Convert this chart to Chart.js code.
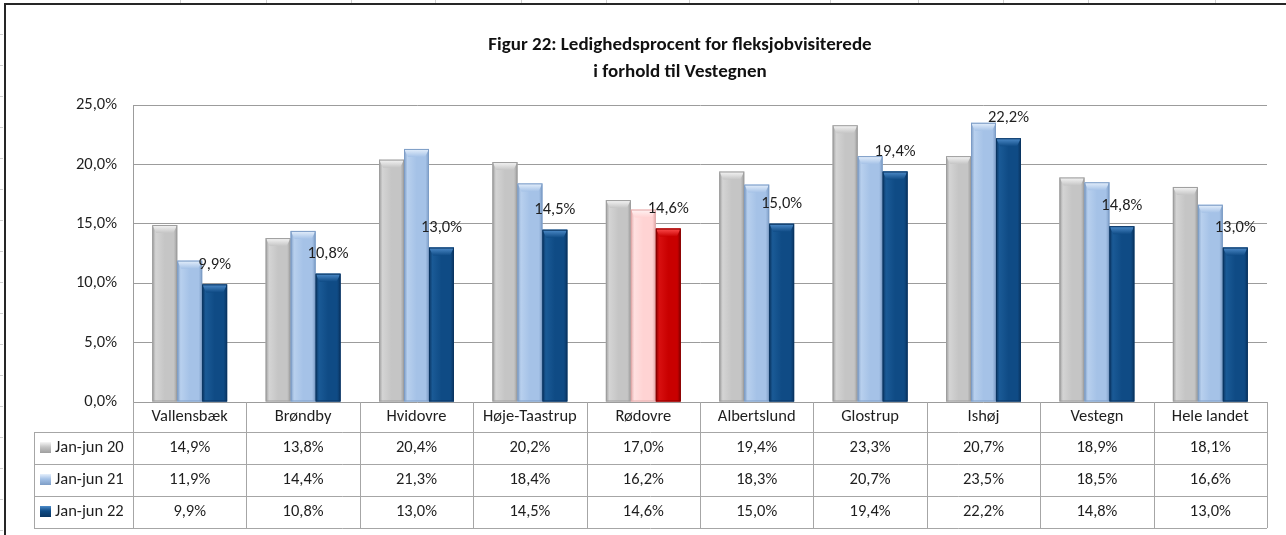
<!DOCTYPE html>
<html>
<head>
<meta charset="utf-8">
<script src="https://cdn.jsdelivr.net/npm/chart.js@4/dist/chart.umd.min.js"></script>
<style>
  html, body { margin: 0; padding: 0; background: #fff; }
  #wrap { width: 1286px; height: 535px; position: relative; }
</style>
</head>
<body>
<div id="wrap"><canvas id="c" width="1286" height="535"></canvas></div>
<script>
// ---- data ----
const categories = ['Vallensbæk', 'Brøndby', 'Hvidovre', 'Høje-Taastrup', 'Rødovre', 'Albertslund', 'Glostrup', 'Ishøj', 'Vestegn', 'Hele landet'];
const seriesNames = ['Jan-jun 20', 'Jan-jun 21', 'Jan-jun 22'];
const janJun20 = [14.9, 13.8, 20.4, 20.2, 17.0, 19.4, 23.3, 20.7, 18.9, 18.1];
const janJun21 = [11.9, 14.4, 21.3, 18.4, 16.2, 18.3, 20.7, 23.5, 18.5, 16.6];
const janJun22 = [9.9, 10.8, 13.0, 14.5, 14.6, 15.0, 19.4, 22.2, 14.8, 13.0];
const yTicks = [0, 5, 10, 15, 20, 25];
const titleLines = ['Figur 22: Ledighedsprocent for fleksjobvisiterede', 'i forhold til Vestegnen'];
const highlightCategory = 'Rødovre';
const labelledSeries = 2; // only the latest period carries value labels

// ---- styling ----
const FONT = "Carlito, Calibri, Lato, 'Open Sans', sans-serif";
const TEXT = '#1e1e1e';
const GRID = '#9c9c9c';
const TABLE_LINE = '#a6a6a6';
const FS = 16.5;

// bar palettes: base, light cap, dark edge
const palettes = [
  { base: '#c5c5c5', cap: '#f6f6f6', edge: '#9e9e9e', side: '#d4d4d4' },
  { base: '#a5c2e7', cap: '#e6f0fc', edge: '#7d9dc6', side: '#b8d0ee' },
  { base: '#0f4b85', cap: '#4f8dcb', edge: '#0a3562', side: '#1a5a96' }
];
const highlightPalettes = [
  { base: '#c5c5c5', cap: '#f6f6f6', edge: '#9e9e9e', side: '#d4d4d4' },
  { base: '#ffd3d3', cap: '#fff4f4', edge: '#e2aaaa', side: '#ffe0e0' },
  { base: '#c90000', cap: '#ff5050', edge: '#880000', side: '#d81010' }
];
const seriesValues = [janJun20, janJun21, janJun22];

function paletteFor(ds, idx) {
  return categories[idx] === highlightCategory ? highlightPalettes[ds] : palettes[ds];
}
function fmtPct(v) {
  return v.toFixed(1).replace('.', ',') + '%';
}

// ---- plugins ----
// Sheet background: gridline stubs of the surrounding worksheet and the chart frame
const sheetFrame = {
  id: 'sheetFrame',
  beforeDraw(chart) {
    const c = chart.ctx;
    c.save();
    c.fillStyle = '#fff';
    c.fillRect(0, 0, chart.width, chart.height);
    c.strokeStyle = '#d0d0d0';
    c.lineWidth = 1;
    [180, 266, 351, 435, 521, 606, 689, 830, 918, 1003, 1088, 1215].forEach(x => {
      c.beginPath(); c.moveTo(x + 0.5, 0); c.lineTo(x + 0.5, 3); c.stroke();
    });
    for (let y = 34; y < chart.height; y += 31) {
      c.beginPath(); c.moveTo(0, y + 0.5); c.lineTo(3, y + 0.5); c.stroke();
    }
    c.fillStyle = '#262626';
    c.fillRect(4, 3, chart.width - 4, 2);
    c.fillRect(4, 3, 2, chart.height - 3);
    c.restore();
  }
};

// Title
const titleBlock = {
  id: 'titleBlock',
  afterDraw(chart) {
    const c = chart.ctx;
    c.save();
    c.fillStyle = '#111';
    c.font = 'bold 19px ' + FONT;
    c.textAlign = 'center';
    c.textBaseline = 'middle';
    titleLines.forEach((t, i) => c.fillText(t, 680, 45 + i * 27));
    c.restore();
  }
};

// Bevelled bar faces drawn over each bar element
const bevelBars = {
  id: 'bevelBars',
  afterDatasetsDraw(chart) {
    const c = chart.ctx;
    chart.data.datasets.forEach((ds, di) => {
      const meta = chart.getDatasetMeta(di);
      meta.data.forEach((el, idx) => {
        const p = paletteFor(di, idx);
        const { x, y, width, base } = el.getProps(['x', 'y', 'width', 'base'], true);
        const x0 = x - width / 2, x1 = x + width / 2;
        const h = base - y;
        if (h <= 0) return;
        c.save();
        // body
        const g = c.createLinearGradient(x0, 0, x1, 0);
        g.addColorStop(0, p.edge);
        g.addColorStop(0.14, p.side);
        g.addColorStop(0.5, p.base);
        g.addColorStop(0.86, p.base);
        g.addColorStop(1, p.edge);
        c.fillStyle = g;
        c.fillRect(x0, y, width, h);
        // top cap
        const b = Math.min(8, h / 2), inset = 4;
        const cg = c.createLinearGradient(0, y, 0, y + b);
        cg.addColorStop(0, p.cap);
        cg.addColorStop(1, p.base);
        c.fillStyle = cg;
        c.beginPath();
        c.moveTo(x0, y); c.lineTo(x1, y);
        c.lineTo(x1 - inset, y + b); c.lineTo(x0 + inset, y + b);
        c.closePath(); c.fill();
        // outline
        c.strokeStyle = p.edge;
        c.lineWidth = 1;
        c.strokeRect(x0 + 0.5, y + 0.5, width - 1, h - 1);
        c.restore();
      });
    });
  }
};

// Value labels above the latest period's bars
const valueLabels = {
  id: 'valueLabels',
  afterDatasetsDraw(chart) {
    const c = chart.ctx;
    const meta = chart.getDatasetMeta(labelledSeries);
    c.save();
    c.fillStyle = TEXT;
    c.font = FS + 'px ' + FONT;
    c.textAlign = 'center';
    c.textBaseline = 'middle';
    meta.data.forEach((el, idx) => {
      c.fillText(fmtPct(seriesValues[labelledSeries][idx]), el.x, el.y - 20);
    });
    c.restore();
  }
};

// Data table under the plot, aligned to the category axis
const dataTable = {
  id: 'dataTable',
  afterDraw(chart) {
    const c = chart.ctx;
    const xs = chart.scales.x;
    const area = chart.chartArea;
    const n = categories.length;
    const colW = (area.right - area.left) / n;
    const top = area.bottom;
    const catRowH = 30, rowH = 32;
    const legendLeft = 34;
    const rowsTop = top + catRowH;
    const bottom = rowsTop + rowH * seriesNames.length;
    const crisp = v => Math.round(v) + 0.5;

    c.save();
    c.strokeStyle = TABLE_LINE;
    c.lineWidth = 1;
    // vertical lines at category edges
    for (let i = 0; i <= n; i++) {
      const x = crisp(area.left + i * colW);
      c.beginPath(); c.moveTo(x, top); c.lineTo(x, bottom); c.stroke();
    }
    // legend column left edge
    c.beginPath(); c.moveTo(crisp(legendLeft), rowsTop); c.lineTo(crisp(legendLeft), bottom); c.stroke();
    // horizontal row lines
    for (let r = 0; r <= seriesNames.length; r++) {
      const y = crisp(rowsTop + r * rowH);
      c.beginPath(); c.moveTo(legendLeft, y); c.lineTo(area.right, y); c.stroke();
    }

    c.font = FS + 'px ' + FONT;
    c.fillStyle = TEXT;
    c.textBaseline = 'middle';
    seriesNames.forEach((name, r) => {
      const cy = rowsTop + r * rowH + rowH / 2;
      // legend swatch
      const p = palettes[r];
      const sx = 40, sy = Math.round(cy - 6), s = 11;
      const g = c.createLinearGradient(0, sy, 0, sy + s);
      g.addColorStop(0, p.cap); g.addColorStop(0.45, p.base); g.addColorStop(1, p.edge);
      c.fillStyle = g;
      c.fillRect(sx, sy, s, s);
      c.fillStyle = TEXT;
      c.textAlign = 'left';
      c.fillText(name, 55, cy);
      // values
      c.textAlign = 'center';
      seriesValues[r].forEach((v, i) => {
        c.fillText(fmtPct(v), xs.getPixelForValue(i), cy);
      });
    });
    c.restore();
  }
};

// ---- chart ----
const datasets = seriesNames.map((name, di) => ({
  label: name,
  data: seriesValues[di],
  backgroundColor: ctx => paletteFor(di, ctx.dataIndex).base,
  borderWidth: 0,
  categoryPercentage: 0.66,
  barPercentage: 1.0
}));

new Chart(document.getElementById('c'), {
  type: 'bar',
  data: { labels: categories, datasets },
  options: {
    responsive: false,
    animation: false,
    devicePixelRatio: 1,
    layout: { padding: { top: 105, left: 5, right: 19, bottom: 103 } },
    plugins: {
      legend: { display: false },
      tooltip: { enabled: false },
      title: { display: false }
    },
    scales: {
      x: {
        grid: { display: false, drawTicks: false },
        border: { display: false },
        ticks: { color: TEXT, font: { family: FONT, size: FS }, padding: 5, maxRotation: 0, autoSkip: false },
        afterFit(scale) { scale.height = 30; }
      },
      y: {
        min: yTicks[0],
        max: yTicks[yTicks.length - 1],
        afterBuildTicks(scale) { scale.ticks = yTicks.map(v => ({ value: v })); },
        grid: { color: GRID, drawTicks: false, lineWidth: 1 },
        border: { display: true, color: GRID },
        ticks: {
          color: TEXT,
          font: { family: FONT, size: FS },
          padding: 16,
          callback: v => fmtPct(v)
        },
        afterFit(scale) { scale.width = 128; }
      }
    }
  },
  plugins: [sheetFrame, bevelBars, valueLabels, dataTable, titleBlock]
});
</script>
</body>
</html>
